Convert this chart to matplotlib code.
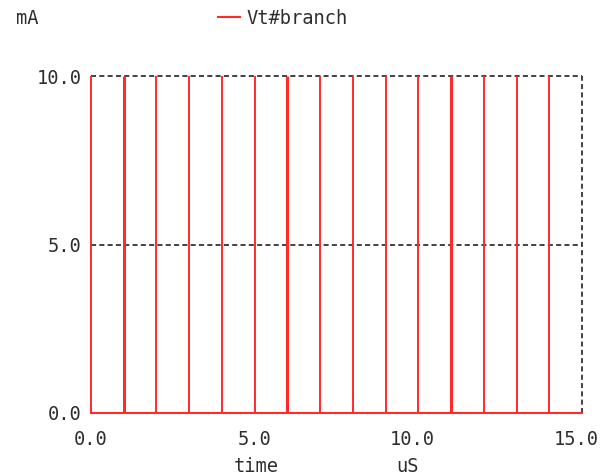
import matplotlib
matplotlib.use("Agg")
import matplotlib.pyplot as plt
import matplotlib.transforms as mtransforms

# ---- data ----
spike_times = [0, 1, 2, 3, 4, 5, 6, 7, 8, 9, 10, 11, 12, 13, 14]   # us
spike_values = [10.0] * len(spike_times)                           # mA
baseline_value = 0.0
t_start, t_end = 0.0, 15.0
emphasized_spikes = [1, 6, 11]
x_ticks = [0.0, 5.0, 10.0, 15.0]
x_tick_labels = ["0.0", "5.0", "10.0", "15.0"]
y_ticks = [0.0, 5.0, 10.0]
y_tick_labels = ["0.0", "5.0", "10.0"]
series_name = "Vt#branch"

FONT = "DejaVu Sans Mono"
TXT = "#2e2e2e"
RED = "#ff2a2a"
GRID = "#333333"

W, H = 608, 476
fig = plt.figure(figsize=(W / 100, H / 100), dpi=100)
fig.patch.set_facecolor("white")
ax = fig.add_axes([91 / W, 1 - 413 / H, (582 - 91) / W, (413 - 76) / H])
ax.set_xlim(t_start, t_end)
ax.set_ylim(0, 10)
for s in ax.spines.values():
    s.set_visible(False)

# grid (dashed)
dash = (0, (2.8, 1.8))
for y in [5.0, 10.0]:
    ax.axhline(y, color=GRID, lw=1.3, ls=dash, clip_on=False, zorder=1)
ax.axvline(t_end, color=GRID, lw=1.3, ls=dash, clip_on=False, zorder=1)
ax.axhline(0, color=GRID, lw=1.3, ls=dash, clip_on=False, zorder=1)

# baseline of the waveform
ax.plot([t_start, t_end], [baseline_value, baseline_value], color=RED, lw=1.5,
        clip_on=False, zorder=3)
# spikes
widths = [2.2 if t in emphasized_spikes else 1.4 for t in spike_times]
ax.vlines(spike_times, [baseline_value] * len(spike_times), spike_values,
          colors=RED, linewidths=widths, clip_on=False, zorder=4)

ax.set_xticks(x_ticks)
ax.set_xticklabels(x_tick_labels, fontfamily=FONT, fontsize=13.5, color=TXT)
ax.set_yticks(y_ticks)
ax.set_yticklabels(y_tick_labels, fontfamily=FONT, fontsize=13.5, color=TXT)
ax.tick_params(axis="both", length=0)
ax.tick_params(axis="x", pad=12)
ax.tick_params(axis="y", pad=7)
for lab in ax.get_xticklabels():
    if len(lab.get_text()) > 3:
        lab.set_transform(lab.get_transform() +
                          mtransforms.ScaledTranslation(-6 / 100, 0, fig.dpi_scale_trans))

# labels
fig.text(256 / W, 1 - 466 / H, "time", ha="center", va="center",
         fontfamily=FONT, fontsize=13.5, color=TXT)
fig.text(408 / W, 1 - 466 / H, "uS", ha="center", va="center",
         fontfamily=FONT, fontsize=13.5, color=TXT)
fig.text(27 / W, 1 - 18 / H, "mA", ha="center", va="center",
         fontfamily=FONT, fontsize=13.5, color=TXT)
# legend
fig.add_artist(plt.Line2D([218 / W, 240 / W], [1 - 17 / H, 1 - 17 / H],
                          color=RED, lw=1.5, transform=fig.transFigure))
fig.text(246 / W, 1 - 18 / H, series_name, ha="left", va="center",
         fontfamily=FONT, fontsize=13.5, color=TXT)

fig.savefig("out.png", dpi=100, facecolor="white")
